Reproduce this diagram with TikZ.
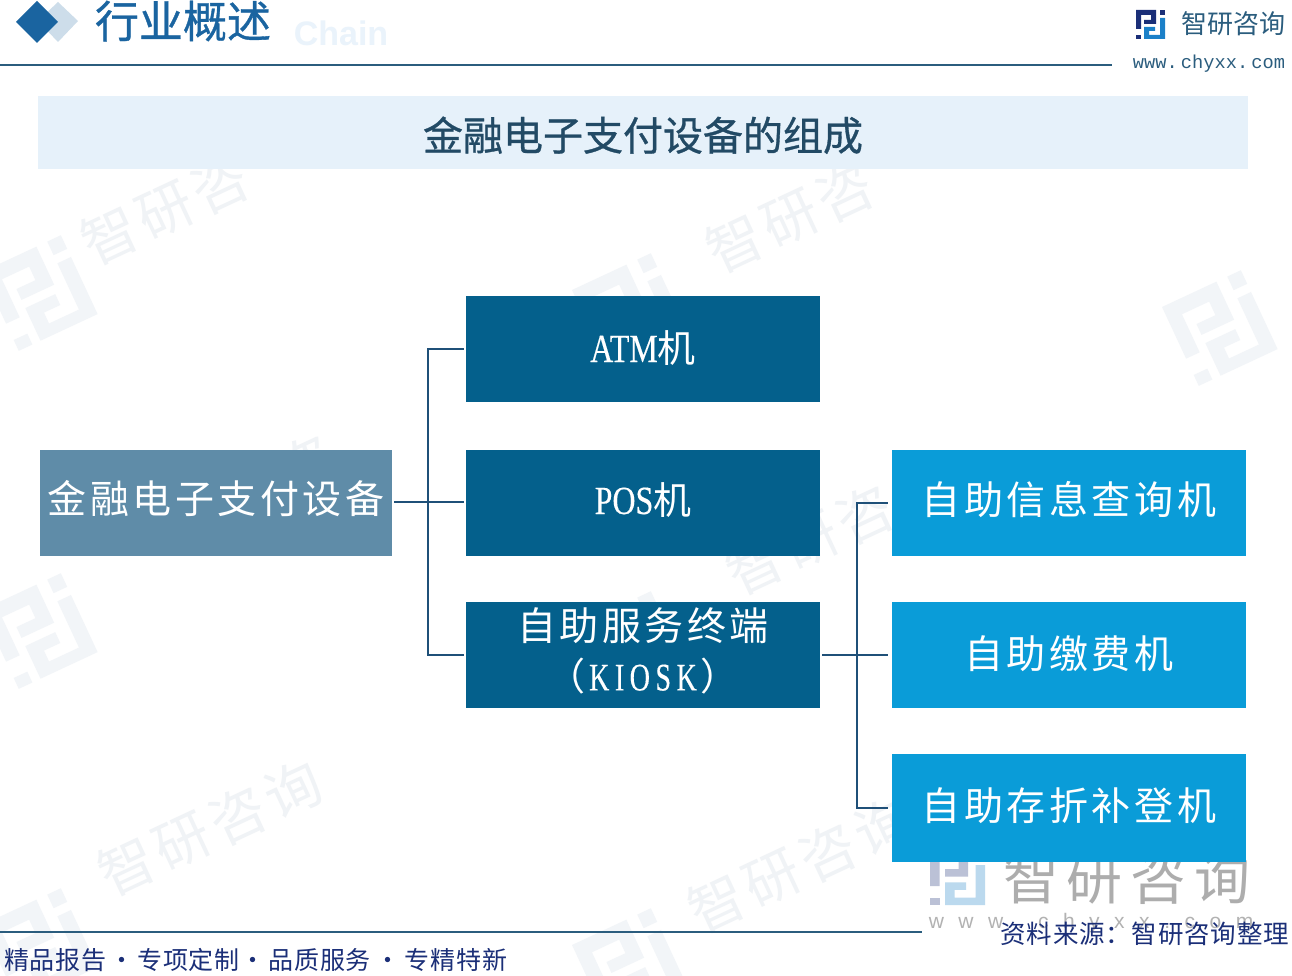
\documentclass[tikz,border=0pt]{standalone}
\usepackage{fontspec}
\setmainfont{Noto Sans CJK SC}
\newfontfamily\cjk{Noto Sans CJK SC}
\newfontfamily\cjkwide[LetterSpace=9]{Noto Sans CJK SC}
\newfontfamily\cjktight[LetterSpace=3]{Noto Sans CJK SC}
\newfontfamily\cjkbold[FakeBold=0.8]{Noto Sans CJK SC}
\newfontfamily\monof{Liberation Mono}
\newfontfamily\sansb{Liberation Sans}
\newfontfamily\narrowserif[FakeStretch=0.8,FakeBold=0.3]{Liberation Serif}
\newfontfamily\narrowspaced[FakeStretch=0.72,LetterSpace=14,FakeBold=0.3]{Liberation Serif}
\definecolor{darkbox}{HTML}{04608C}
\definecolor{skybox}{HTML}{0A9CD8}
\definecolor{rootbox}{HTML}{5F8CA8}
\definecolor{banner}{HTML}{E6F1FA}
\definecolor{rulec}{HTML}{2B5D7E}
\definecolor{linkc}{HTML}{1F5078}
\definecolor{heading}{HTML}{1A64A0}
\definecolor{navy}{HTML}{1B2F78}
\definecolor{logoblue}{HTML}{1B80C8}
\definecolor{wm}{HTML}{F0F3F6}
\definecolor{wmlogo}{HTML}{F2F5F8}
\tikzset{
  box/.style={rectangle,inner sep=0pt,outer sep=0pt,text=white,align=center,minimum width=354pt,minimum height=106pt},
  darkb/.style={box,fill=darkbox},
  skyb/.style={box,fill=skybox},
  rootb/.style={box,fill=rootbox,minimum width=352pt},
  link/.style={draw=linkc,line width=1.6pt},
  wmtext/.style={text=wm,font=\cjkwide\fontsize{56}{56}\selectfont,inner sep=0pt},
  lift/.style={text height=#1,text depth=0pt},
  pics/logomark/.style n args={3}{code={
    \fill[#1] (0,0) -- (20,0) -- (20,14) -- (8,14) -- (8,10) -- (15,10) -- (15,5) -- (5,5) -- (5,19) -- (0,19) -- cycle;
    \fill[#1] (0,25) rectangle (5,29);
    \fill[#1] (24,0) rectangle (29,5);
    \fill[#2] (24,8) -- (29,8) -- (29,29) -- (8,29) -- (8,17) -- (19,17) -- (19,21) -- (13,21) -- (13,25) -- (24,25) -- cycle;
  }}
}
\begin{document}
\begin{tikzpicture}[x=1pt,y=-1pt]
\useasboundingbox (0,0) rectangle (1292,976);
\fill[white] (0,0) rectangle (1292,976);
% watermarks
\foreach \px/\py in {-18/272,572/290,1162/307,-18/610,572/628,-18/925,572/945}{
  \pic[rotate=25,scale=3] at (\px,\py) {logomark={wmlogo}{wmlogo}{}};
}
\node[wmtext,rotate=25] (wm1) at (210,828) {智研咨询};
\node[wmtext,rotate=25] (wm2) at (800,865) {智研咨询};
\node[wmtext,rotate=25] (wm3) at (165,210) {智研咨};
\node[wmtext,rotate=25] (wm4) at (790,218) {智研咨};
\node[wmtext,rotate=25] (wm5) at (250,490) {智研咨};
\node[wmtext,rotate=25] (wm6) at (810,540) {智研咨};
% header
\node[inner sep=0pt,text=banner!85!white,font=\sansb\bfseries\fontsize{34}{34}\selectfont] (ghost) at (341,33) {Chain};
\fill[heading!22!white] (58,2) -- (78,21) -- (58,42) -- (38,21) -- cycle;
\fill[heading] (37,1) -- (58,22) -- (37,43) -- (16,22) -- cycle;
\node[inner sep=0pt,text=heading,font=\cjkbold\fontsize{44}{44}\selectfont] (head) at (183,21) {行业概述};
\coordinate (t0) at (0,65); \coordinate (t1) at (1112,65);
\draw[draw=rulec,line width=1.5pt] (t0) -- (t1);
\pic at (1136,10) {logomark={navy}{logoblue}{}};
\node[inner sep=0pt,text=rulec,font=\cjk\fontsize{26}{26}\selectfont] (brand) at (1233,24) {智研咨询};
\node[inner sep=0pt,text=rulec,font=\monof\fontsize{18.7}{19}\selectfont] (url) at (1209,64) {www.\,chyxx.\,com};
% banner
\node[rectangle,fill=banner,inner sep=0pt,minimum width=1210pt,minimum height=73pt,text=rulec!80!black,lift=36pt,font=\cjkbold\fontsize{40}{40}\selectfont] (title) at (643,132.5) {金融电子支付设备的组成};
% bottom-right big watermark
\pic[scale=1.9] at (930,850) {logomark={navy!30!white}{logoblue!30!white}{}};
\node[inner sep=0pt,text=black!32,font=\cjk\fontsize{56}{56}\selectfont] (bigbrand) at (1127,878) {智\hspace{8pt}研\hspace{8pt}咨\hspace{8pt}询};
\node[inner sep=0pt,text=black!30,font=\sansb\fontsize{21}{21}\selectfont] (bigurl) at (1091,923) {w\hspace{14.5pt}w\hspace{14.5pt}w\hspace{14.5pt}.\hspace{14.5pt}c\hspace{14.5pt}h\hspace{14.5pt}y\hspace{14.5pt}x\hspace{14.5pt}x\hspace{14.5pt}.\hspace{14.5pt}c\hspace{14.5pt}o\hspace{14.5pt}m};
% boxes
\node[rootb,lift=20pt,font=\cjkwide\fontsize{39}{39}\selectfont] (root) at (216,503) {金融电子支付设备};
\node[darkb,lift=26pt] (atm) at (643,349) {{\narrowserif\fontsize{40}{40}\selectfont ATM}{\cjk\fontsize{38}{38}\selectfont 机}};
\node[darkb,lift=22pt] (pos) at (643,503) {{\narrowserif\fontsize{40}{40}\selectfont POS}{\cjk\fontsize{38}{38}\selectfont 机}};
\node[darkb,font=\fontsize{39}{50}\selectfont] (kiosk) at (643,655) {{\cjkwide 自助服务终端}\\{\cjk\fontsize{38}{50}\selectfont （\hspace{4pt}{\narrowspaced\fontsize{39}{50}\selectfont KIOSK}\hspace{4pt}）}\rule[-12pt]{0pt}{12pt}};
\node[skyb,lift=22pt,font=\cjkwide\fontsize{39}{39}\selectfont] (info) at (1069,503) {自助信息查询机};
\node[skyb,lift=26pt,font=\cjkwide\fontsize{39}{39}\selectfont] (pay) at (1069,655) {自助缴费机};
\node[skyb,lift=24pt,minimum height=108pt,font=\cjkwide\fontsize{39}{39}\selectfont] (dep) at (1069,808) {自助存折补登机};
% connectors
\coordinate (j1) at (428,502);
\coordinate (j2) at (857,655);
\draw[link,shorten <=2pt,shorten >=2pt] (root.east |- j1) -- (pos.west |- j1);
\draw[link,shorten >=2pt] (j1) |- (atm);
\draw[link,shorten >=2pt] (j1) |- (kiosk);
\draw[link,shorten <=2pt,shorten >=4pt] (kiosk) -- (pay);
\draw[link,shorten >=4pt] (j2) |- (info);
\draw[link,shorten >=4pt] (j2) |- (dep);
% footer
\coordinate (b0) at (0,932); \coordinate (b1) at (922,932);
\draw[draw=rulec,line width=1.5pt] (b0) -- (b1);
\node[inner sep=0pt,anchor=west,text=navy,font=\cjktight\fontsize{25}{25}\selectfont] (slogan) at (4,960) {精品报告\hspace{3pt}·\hspace{3pt}专项定制\hspace{1pt}·\hspace{3pt}品质服务\hspace{5pt}·\hspace{4pt}专精特新};
\node[inner sep=0pt,anchor=east,text=navy,font=\cjktight\fontsize{25.5}{25}\selectfont] (source) at (1289,934) {资料来源：智研咨询整理};
\end{tikzpicture}
\end{document}
